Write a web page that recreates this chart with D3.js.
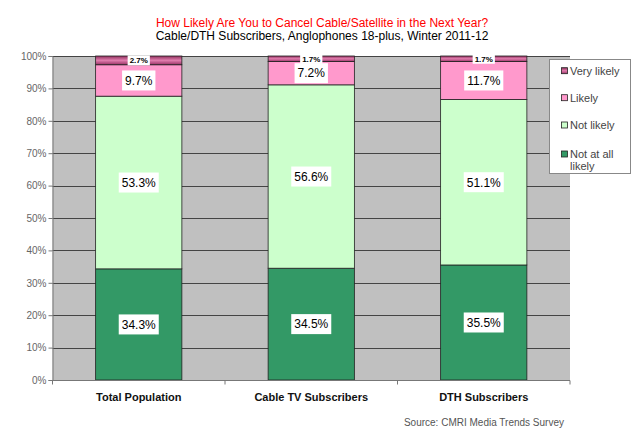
<!DOCTYPE html>
<html>
<head>
<meta charset="utf-8">
<script src="https://cdn.jsdelivr.net/npm/d3@7"></script>
<style>
	body { margin: 0; background: #fff; }
	svg { display: block; font-family: "Liberation Sans", Arial, sans-serif; }
</style>
</head>
<body>
<div id="container"></div>
<script>
// chart data
var categories = ["Total Population", "Cable TV Subscribers", "DTH Subscribers"];
var seriesNames = ["Not at all likely", "Not likely", "Likely", "Very likely"];
var notAtAllLikely = [34.3, 34.5, 35.5];
var notLikely = [53.3, 56.6, 51.1];
var likely = [9.7, 7.2, 11.7];
var veryLikely = [2.7, 1.7, 1.7];
var yTicks = [0, 10, 20, 30, 40, 50, 60, 70, 80, 90, 100];

(function()
{
	var width = 640, height = 438;
	var plot = {left: 52.5, right: 570, top: 56, bottom: 380};
	var colors = ["#339966", "#CCFFCC", "#FF99CC", "url(#veryGrad)"];

	var svg = d3.select("#container").append("svg").attr("width", width).attr("height", height);
	svg.append("rect").attr("width", width).attr("height", height).attr("fill", "#fff");

	// gradient used by the "very likely" segment
	var grad = svg.append("defs").append("linearGradient").attr("id", "veryGrad")
		.attr("x1", 0).attr("y1", 0).attr("x2", 0).attr("y2", 1);
	grad.append("stop").attr("offset", "0%").attr("stop-color", "#8E2F5C");
	grad.append("stop").attr("offset", "50%").attr("stop-color", "#E27DAE");
	grad.append("stop").attr("offset", "100%").attr("stop-color", "#993366");

	var x = d3.scaleBand().domain(categories).range([plot.left, plot.right]).paddingInner(0.5).paddingOuter(0.25);
	var y = d3.scaleLinear().domain([0, 100]).range([plot.bottom, plot.top]);

	// titles
	svg.append("text").attr("x", 322).attr("y", 27).attr("text-anchor", "middle")
		.attr("font-size", 12).attr("fill", "#FF0000").text("How Likely Are You to Cancel Cable/Satellite in the Next Year?");
	svg.append("text").attr("x", 322).attr("y", 40).attr("text-anchor", "middle")
		.attr("font-size", 12).attr("fill", "#000").text("Cable/DTH Subscribers, Anglophones 18-plus, Winter 2011-12");

	// plot background + grid
	svg.append("rect").attr("x", plot.left).attr("y", plot.top)
		.attr("width", plot.right - plot.left).attr("height", plot.bottom - plot.top).attr("fill", "#C0C0C0");
	svg.append("g").selectAll("line").data(yTicks.slice(1)).join("line")
		.attr("x1", plot.left).attr("x2", plot.right)
		.attr("y1", function(d) { return Math.round(y(d)) + 0.5; })
		.attr("y2", function(d) { return Math.round(y(d)) + 0.5; })
		.attr("stroke", "#444").attr("stroke-width", 1);

	// y axis
	var yAxis = svg.append("g").attr("transform", "translate(" + plot.left + ",0)")
		.call(d3.axisLeft(y).tickValues(yTicks).tickSize(4).tickFormat(function(d) { return d + "%"; }));
	yAxis.select(".domain").attr("stroke", "#777");
	yAxis.selectAll(".tick line").attr("stroke", "#777");
	yAxis.selectAll(".tick text").attr("font-size", 10).attr("fill", "#666")
		.attr("font-family", "\"Liberation Sans\", Arial, sans-serif").attr("x", -6);

	// stack the series
	var rows = categories.map(function(c, i)
	{
		return {cat: c, s0: notAtAllLikely[i], s1: notLikely[i], s2: likely[i], s3: veryLikely[i]};
	});
	var stacked = d3.stack().keys(["s0", "s1", "s2", "s3"])(rows);

	var layers = svg.append("g").selectAll("g").data(stacked).join("g")
		.attr("fill", function(d, i) { return colors[i]; });
	layers.selectAll("rect").data(function(d) { return d; }).join("rect")
		.attr("x", function(d) { return x(d.data.cat); })
		.attr("width", x.bandwidth())
		.attr("y", function(d) { return y(d[1]); })
		.attr("height", function(d) { return y(d[0]) - y(d[1]); })
		.attr("stroke", "#222").attr("stroke-width", 0.8);

	// x axis
	var bottomY = plot.bottom + 0.5;
	svg.append("line").attr("x1", plot.left).attr("x2", plot.right).attr("y1", bottomY).attr("y2", bottomY).attr("stroke", "#777");
	var bounds = [plot.left].concat(categories.map(function(c) { return x(c) + x.bandwidth() + x.step() * x.paddingInner() / 2; }));
	svg.append("g").selectAll("line").data(bounds).join("line")
		.attr("x1", function(d) { return d; }).attr("x2", function(d) { return d; })
		.attr("y1", bottomY).attr("y2", bottomY + 4).attr("stroke", "#777");
	svg.append("g").selectAll("text").data(categories).join("text")
		.attr("x", function(d) { return x(d) + x.bandwidth() / 2; })
		.attr("y", 401).attr("text-anchor", "middle")
		.attr("font-size", 11).attr("font-weight", "bold").attr("fill", "#111")
		.text(function(d) { return d; });

	// data labels in white boxes
	stacked.forEach(function(layer, li)
	{
		layer.forEach(function(d)
		{
			var small = (d[1] - d[0]) < 5;
			var fs = small ? 8 : 12;
			var cx = x(d.data.cat) + x.bandwidth() / 2;
			var cy = (y(d[0]) + y(d[1])) / 2;
			var g = svg.append("g");
			var t = g.append("text").attr("x", cx).attr("y", cy + fs * 0.36)
				.attr("text-anchor", "middle").attr("font-size", fs)
				.attr("font-weight", small ? "bold" : "normal").attr("fill", "#000")
				.text(d3.format(".1f")(d[1] - d[0]) + "%");
			var w = t.node().getComputedTextLength() + (small ? 4 : 6);
			var h = small ? 10 : 20;
			g.insert("rect", "text").attr("x", cx - w / 2).attr("y", cy - h / 2)
				.attr("width", w).attr("height", h).attr("fill", "#fff");
		});
	});

	// legend
	var legend = svg.append("g");
	legend.append("rect").attr("x", 549.5).attr("y", 59.5).attr("width", 81).attr("height", 114)
		.attr("fill", "#fff").attr("stroke", "#888");
	var legendY = [154, 125, 97.7, 70.7];
	seriesNames.forEach(function(name, i)
	{
		legend.append("rect").attr("x", 561.5).attr("y", legendY[i] - 3).attr("width", 6).attr("height", 6)
			.attr("fill", colors[i]).attr("stroke", "#222").attr("stroke-width", 0.8);
		var lines = name == "Not at all likely" ? ["Not at all", "likely"] : [name];
		lines.forEach(function(l, k)
		{
			legend.append("text").attr("x", 570).attr("y", legendY[i] + 4 + k * 12)
				.attr("font-size", 11).attr("fill", "#444").text(l);
		});
	});

	// source note
	svg.append("text").attr("x", 564).attr("y", 426).attr("text-anchor", "end")
		.attr("font-size", 10).attr("fill", "#555").text("Source: CMRI Media Trends Survey");
})();
</script>
</body>
</html>
